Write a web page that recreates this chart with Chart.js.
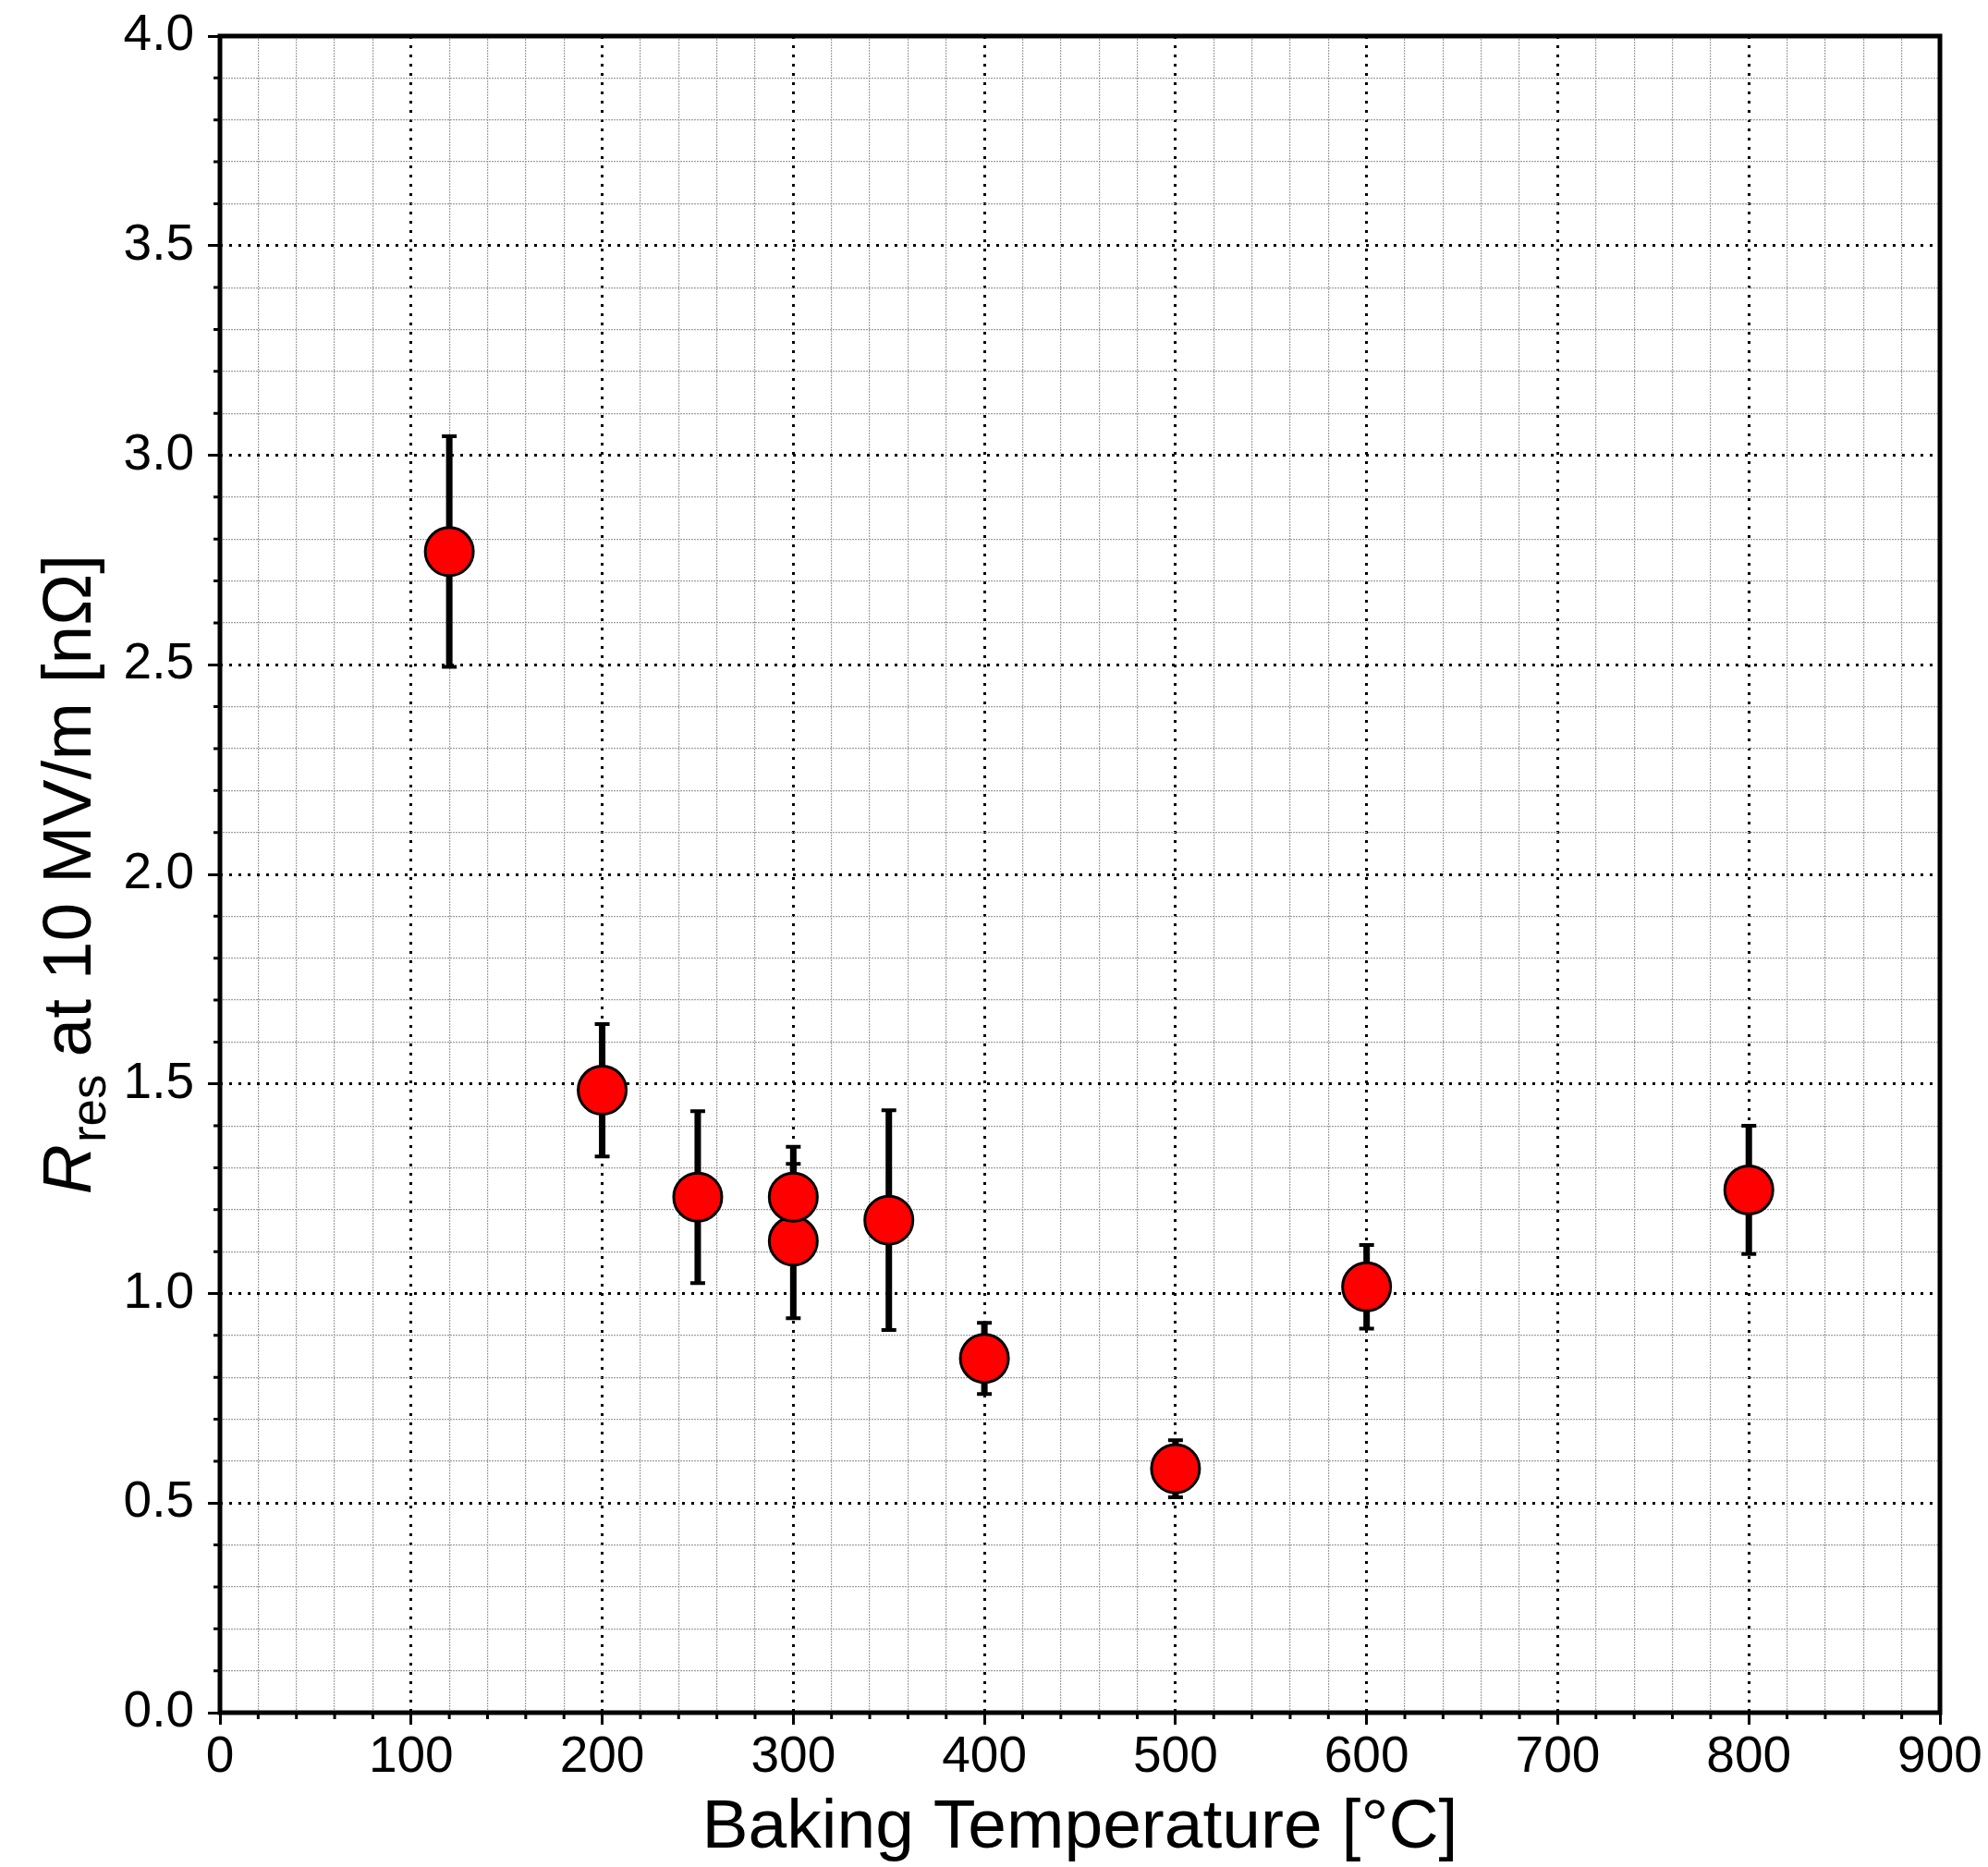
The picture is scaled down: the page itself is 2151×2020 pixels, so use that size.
<!DOCTYPE html>
<html>
<head>
<meta charset="utf-8">
<script src="https://cdn.jsdelivr.net/npm/chart.js@4.4.0/dist/chart.umd.min.js"></script>
<style>
html,body{margin:0;padding:0;background:#fff;overflow:hidden}
canvas{display:block}
</style>
</head>
<body>
<canvas id="c" width="2151" height="2020"></canvas>
<script>
// ---- data ----
const temperatures = [120, 200, 250, 300, 300, 350, 400, 500, 600, 800];
const rres         = [2.77, 1.485, 1.23, 1.125, 1.23, 1.175, 0.845, 0.582, 1.016, 1.247];
const rresErr      = [0.275, 0.158, 0.205, 0.184, 0.12, 0.262, 0.085, 0.068, 0.1, 0.153];

const xTickValues = [0, 100, 200, 300, 400, 500, 600, 700, 800, 900];
const xTickLabels = ['0', '100', '200', '300', '400', '500', '600', '700', '800', '900'];
const yTickValues = [0, 0.5, 1, 1.5, 2, 2.5, 3, 3.5, 4];
const yTickLabels = ['0.0', '0.5', '1.0', '1.5', '2.0', '2.5', '3.0', '3.5', '4.0'];

const xTitle = 'Baking Temperature [°C]';
const yTitleMain = 'R';
const yTitleSub = 'res';
const yTitleRest = ' at 10 MV/m [nΩ]';

// ---- helpers ----
const FONT = '"Liberation Sans", Arial, Helvetica, sans-serif';
function labelFor(values, labels, v) {
  for (let i = 0; i < values.length; i++) if (Math.abs(values[i] - v) < 1e-6) return labels[i];
  return '';
}
const isMajorX = v => labelFor(xTickValues, xTickLabels, v) !== '';
const isMajorY = v => labelFor(yTickValues, yTickLabels, v) !== '';

Chart.defaults.font.family = FONT;
Chart.defaults.color = '#000';

const errorBars = {
  id: 'errorBars',
  beforeDatasetsDraw(chart) {
    const {ctx, scales: {x, y}} = chart;
    ctx.save();
    ctx.strokeStyle = '#000';
    ctx.lineCap = 'butt';
    temperatures.forEach((t, i) => {
      const px = x.getPixelForValue(t);
      const top = y.getPixelForValue(rres[i] + rresErr[i]);
      const bot = y.getPixelForValue(rres[i] - rresErr[i]);
      ctx.lineWidth = 7;
      ctx.beginPath(); ctx.moveTo(px, top); ctx.lineTo(px, bot); ctx.stroke();
      ctx.lineWidth = 4;
      ctx.beginPath();
      ctx.moveTo(px - 8, top); ctx.lineTo(px + 8, top);
      ctx.moveTo(px - 8, bot); ctx.lineTo(px + 8, bot);
      ctx.stroke();
    });
    ctx.restore();
  }
};

const frameAndMinorTicks = {
  id: 'frameAndMinorTicks',
  afterDraw(chart) {
    const {ctx, chartArea: a, scales: {x, y}} = chart;
    ctx.save();
    ctx.strokeStyle = '#000';
    // minor ticks
    ctx.lineWidth = 3;
    ctx.beginPath();
    x.ticks.forEach(t => {
      if (isMajorX(t.value)) return;
      const px = x.getPixelForValue(t.value);
      ctx.moveTo(px, a.bottom); ctx.lineTo(px, a.bottom + 7);
    });
    y.ticks.forEach(t => {
      if (isMajorY(t.value)) return;
      const py = y.getPixelForValue(t.value);
      ctx.moveTo(a.left, py); ctx.lineTo(a.left - 7, py);
    });
    ctx.stroke();
    // frame
    ctx.lineWidth = 5;
    ctx.lineJoin = 'miter';
    ctx.strokeRect(a.left, a.top, a.right - a.left, a.bottom - a.top);
    ctx.restore();

    // y axis title with italic R and subscript
    ctx.save();
    const big = 75, small = 53;
    const fMain = 'italic ' + big + 'px ' + FONT;
    const fSub = small + 'px ' + FONT;
    const fRest = big + 'px ' + FONT;
    ctx.font = fMain; const w1 = ctx.measureText(yTitleMain).width;
    ctx.font = fSub;  const w2 = ctx.measureText(yTitleSub).width;
    ctx.font = fRest; const w3 = ctx.measureText(yTitleRest).width;
    const total = w1 + w2 + w3;
    const cy = (a.top + a.bottom) / 2;
    const baselineX = 98;
    ctx.translate(baselineX, cy);
    ctx.rotate(-Math.PI / 2);
    ctx.fillStyle = '#000';
    ctx.textBaseline = 'alphabetic';
    ctx.textAlign = 'left';
    let u = -total / 2;
    ctx.font = fMain; ctx.fillText(yTitleMain, u, 0); u += w1 + 2;
    ctx.font = fSub;  ctx.fillText(yTitleSub, u, 16); u += w2 - 2;
    ctx.font = fRest; ctx.fillText(yTitleRest, u, 0);
    ctx.restore();
  }
};

const points = temperatures.map((t, i) => ({x: t, y: rres[i]}));

new Chart(document.getElementById('c'), {
  type: 'scatter',
  data: {
    datasets: [{
      data: points,
      pointRadius: 26,
      pointHoverRadius: 26,
      pointBackgroundColor: '#ff0000',
      pointBorderColor: '#000',
      pointBorderWidth: 3,
      showLine: false
    }]
  },
  options: {
    responsive: false,
    animation: false,
    devicePixelRatio: 1,
    layout: {padding: {left: 0, right: 52, top: 39, bottom: 0}},
    plugins: {legend: {display: false}, tooltip: {enabled: false}},
    scales: {
      x: {
        type: 'linear',
        position: 'bottom',
        min: 0, max: 900,
        afterFit: s => { s.height = 167; },
        ticks: {
          stepSize: 20, maxTicksLimit: 1000, autoSkip: false, maxRotation: 0, minRotation: 0,
          padding: 3,
          font: {size: 55},
          color: '#000',
          callback: v => labelFor(xTickValues, xTickLabels, v)
        },
        grid: {
          color: c => (c.tick && isMajorX(c.tick.value)) ? '#000' : '#a0a0a0',
          lineWidth: c => (c.tick && isMajorX(c.tick.value)) ? 3 : 1.2,
          drawTicks: true,
          tickLength: 13,
          tickWidth: 3,
          tickColor: c => (c.tick && isMajorX(c.tick.value)) ? '#000' : 'rgba(0,0,0,0)'
        },
        border: {display: false, dash: c => (c.tick && isMajorX(c.tick.value)) ? [3, 7] : [2, 1]},
        title: {display: true, text: xTitle, font: {size: 75, lineHeight: 1.1}, color: '#000', padding: {top: 0, bottom: 0}}
      },
      y: {
        type: 'linear',
        position: 'left',
        min: 0, max: 4,
        afterFit: s => { s.width = 238; },
        ticks: {
          stepSize: 0.1, maxTicksLimit: 1000, autoSkip: false,
          padding: 15,
          font: {size: 55, lineHeight: 0.6},
          color: '#000',
          callback: v => labelFor(yTickValues, yTickLabels, v)
        },
        grid: {
          color: c => (c.tick && isMajorY(c.tick.value)) ? '#000' : '#a0a0a0',
          lineWidth: c => (c.tick && isMajorY(c.tick.value)) ? 3 : 1.2,
          drawTicks: true,
          tickLength: 13,
          tickWidth: 3,
          tickColor: c => (c.tick && isMajorY(c.tick.value)) ? '#000' : 'rgba(0,0,0,0)'
        },
        border: {display: false, dash: c => (c.tick && isMajorY(c.tick.value)) ? [3, 7] : [2, 1]},
        title: {display: false, text: 'Rres at 10 MV/m [nΩ]'}
      }
    }
  },
  plugins: [errorBars, frameAndMinorTicks]
});
</script>
</body>
</html>
